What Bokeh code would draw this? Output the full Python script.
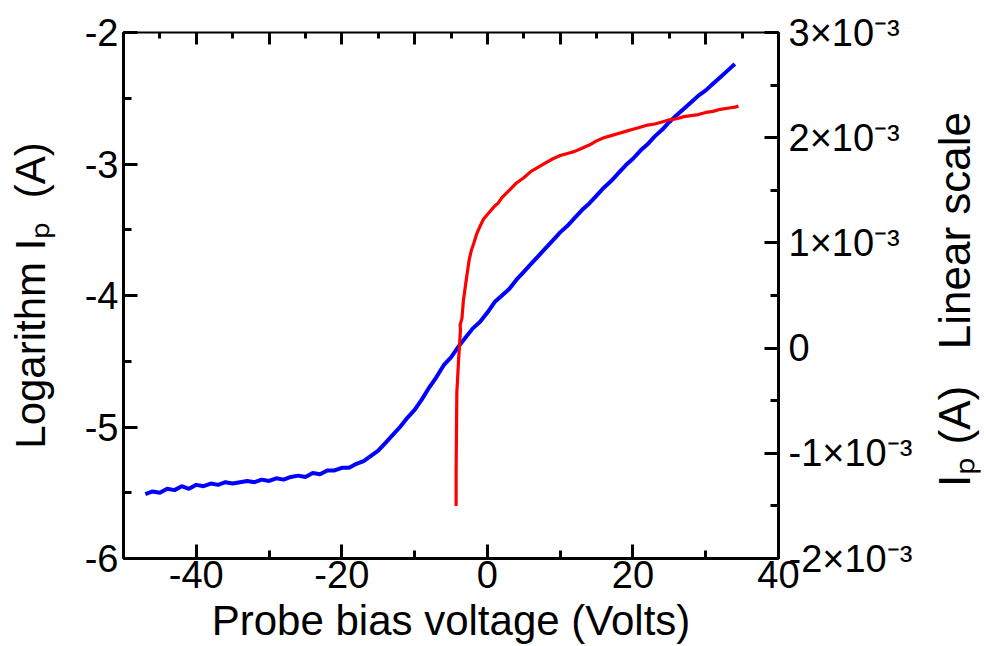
import math
from bokeh.plotting import figure
from bokeh.layouts import row
from bokeh.models import LinearAxis, Range1d, SingleIntervalTicker, CustomJSTickFormatter
from bokeh.core.properties import value
from bokeh.embed import file_html
from bokeh.resources import INLINE

# ---------------- data ----------------
# Blue: logarithm of probe current (left axis), vs probe bias voltage
blue_voltage = [-47, -46, -45, -44, -43, -42, -41, -40, -39, -38, -37, -36, -35, -34, -33,
                -32, -31, -30, -29, -28, -27, -26, -25, -24, -23, -22, -21, -20, -19, -18,
                -17, -16, -15, -14, -13, -12, -11, -10, -9, -8, -7, -6, -5, -4, -3, -2, -1,
                0, 1, 2, 3, 4, 5, 6, 7, 8, 9, 10, 11, 12, 13, 14, 15, 16, 17, 18, 19, 20,
                21, 22, 23, 24, 25, 26, 27, 28, 29, 30, 31, 32, 33, 34]
blue_log_current = [-5.51, -5.49, -5.50, -5.47, -5.48, -5.45, -5.47, -5.44, -5.45, -5.43,
                    -5.44, -5.42, -5.43, -5.42, -5.41, -5.42, -5.40, -5.41, -5.39, -5.40,
                    -5.38, -5.37, -5.38, -5.35, -5.36, -5.33, -5.33, -5.31, -5.31, -5.28,
                    -5.26, -5.22, -5.18, -5.12, -5.06, -5.00, -4.93, -4.87, -4.79, -4.70,
                    -4.62, -4.53, -4.47, -4.39, -4.32, -4.25, -4.20, -4.13, -4.05, -4.00,
                    -3.95, -3.88, -3.82, -3.76, -3.70, -3.64, -3.58, -3.52, -3.47, -3.41,
                    -3.35, -3.30, -3.24, -3.18, -3.13, -3.07, -3.01, -2.96, -2.90, -2.85,
                    -2.79, -2.74, -2.68, -2.63, -2.58, -2.53, -2.48, -2.44, -2.39, -2.34,
                    -2.29, -2.24]

# Red: probe current on a linear scale (right axis), in units of 1e-3 A
red_voltage = [-4.3, -4.3, -4.25, -4.2, -4.1, -3.95, -3.85, -3.7, -3.75, -3.5, -3.3, -3.1,
               -2.8, -2.5, -2.2, -1.9, -1.5, -1.0, -0.5, 0.0, 0.5, 1.0, 1.5, 2.0, 3.0, 4.0,
               5.0, 6.0, 7.0, 8.0, 9.0, 10.0, 11.0, 12.0, 13.0, 14.0, 15.0, 16.0, 17.0,
               18.0, 19.0, 20.0, 21.0, 22.0, 23.0, 24.0, 25.0, 26.0, 27.0, 28.0, 29.0,
               30.0, 31.0, 32.0, 33.0, 34.0, 34.5]
red_current_mA = [-1.50, -1.20, -0.80, -0.42, -0.30, -0.10, 0.00, 0.18, 0.22, 0.28, 0.45,
                  0.55, 0.70, 0.84, 0.93, 0.99, 1.08, 1.16, 1.23, 1.27, 1.31, 1.35, 1.38,
                  1.43, 1.50, 1.57, 1.62, 1.68, 1.72, 1.76, 1.80, 1.83, 1.85, 1.87, 1.90,
                  1.93, 1.97, 2.00, 2.02, 2.04, 2.06, 2.08, 2.10, 2.12, 2.13, 2.15, 2.17,
                  2.18, 2.20, 2.21, 2.22, 2.24, 2.25, 2.27, 2.28, 2.29, 2.30]
red_current = [v * 1e-3 for v in red_current_mA]

x_title = "Probe bias voltage (Volts)"
left_title = "Logarithm I\u209a\u00a0\u00a0(A)"
right_title = "I\u209a\u00a0(A)\u00a0\u00a0\u00a0Linear scale"

FONT = "Liberation Sans"
TICK_SIZE = "38px"
TITLE_SIZE = "42px"

MAIN_W, SIDE_W, H = 926, 60, 646
BORDER_TOP, BORDER_BOTTOM = 32, 86

p = figure(width=MAIN_W, height=H,
           x_range=Range1d(-50, 40), y_range=Range1d(-6, -2),
           output_backend="svg", toolbar_location=None,
           x_axis_location=None, y_axis_location=None,
           min_border_left=123, min_border_right=148,
           min_border_top=BORDER_TOP, min_border_bottom=BORDER_BOTTOM,
           outline_line_color=None,
           background_fill_color="white", border_fill_color="white")
p.grid.visible = False
p.extra_y_ranges = {"lin": Range1d(-2e-3, 3e-3)}


def style(ax, line_w=3, maj=14, mnr=8):
    ax.axis_line_width = line_w
    ax.axis_line_color = "black"
    ax.major_tick_line_width = 3
    ax.minor_tick_line_width = 3
    ax.major_tick_in = maj
    ax.major_tick_out = 0
    ax.minor_tick_in = mnr
    ax.minor_tick_out = 0
    ax.major_label_text_font = FONT
    ax.major_label_text_font_size = TICK_SIZE
    ax.major_label_text_color = "black"
    ax.axis_label_text_font = FONT
    ax.axis_label_text_font_size = TITLE_SIZE
    ax.axis_label_text_font_style = "normal"
    ax.axis_label_text_color = "black"


left = LinearAxis(ticker=SingleIntervalTicker(interval=1, num_minor_ticks=2),
                  formatter=CustomJSTickFormatter(code="return String(tick);"),
                  axis_label=left_title)
style(left)
left.major_label_standoff = 5
left.axis_label_standoff = 28
p.add_layout(left, "left")

bottom = LinearAxis(ticker=SingleIntervalTicker(interval=20, num_minor_ticks=2),
                    formatter=CustomJSTickFormatter(code="return String(tick);"),
                    axis_label=x_title)
style(bottom)
bottom.major_label_standoff = 2
bottom.axis_label_standoff = 6
p.add_layout(bottom, "below")

right = LinearAxis(y_range_name="lin",
                   ticker=SingleIntervalTicker(interval=1e-3, num_minor_ticks=2),
                   formatter=CustomJSTickFormatter(code="""
                       const m = Math.round(tick * 1000);
                       return m === 0 ? "0" : m + "\u00d710\u207b\u00b3";
                   """))
style(right)
right.major_label_standoff = 10
p.add_layout(right, "right")

top = LinearAxis(ticker=SingleIntervalTicker(interval=10, num_minor_ticks=2))
style(top, line_w=2, maj=12, mnr=6)
top.major_label_text_font_size = "1px"
top.major_label_text_color = None
p.add_layout(top, "above")

p.line(blue_voltage, blue_log_current, line_color="#0000ff", line_width=4)
p.line(red_voltage, red_current, line_color="#ff0000", line_width=3.2, y_range_name="lin")

# narrow strip on the right that carries the right-hand title, read bottom to top
side = figure(width=SIDE_W, height=H,
              x_range=Range1d(0, 1), y_range=p.y_range,
              output_backend="svg", toolbar_location=None,
              x_axis_location=None, y_axis_location=None,
              min_border_left=0, min_border_right=0,
              min_border_top=BORDER_TOP, min_border_bottom=BORDER_BOTTOM,
              outline_line_color=None,
              background_fill_color="white", border_fill_color="white")
side.grid.visible = False
side.text(x=[0.47], y=[-4.03], text=[right_title], angle=math.pi / 2,
          text_align="center", text_baseline="middle",
          text_font=value(FONT), text_font_size="44px", text_color="black")

layout = row(p, side)
open("out.html", "w").write(file_html(layout, INLINE))
